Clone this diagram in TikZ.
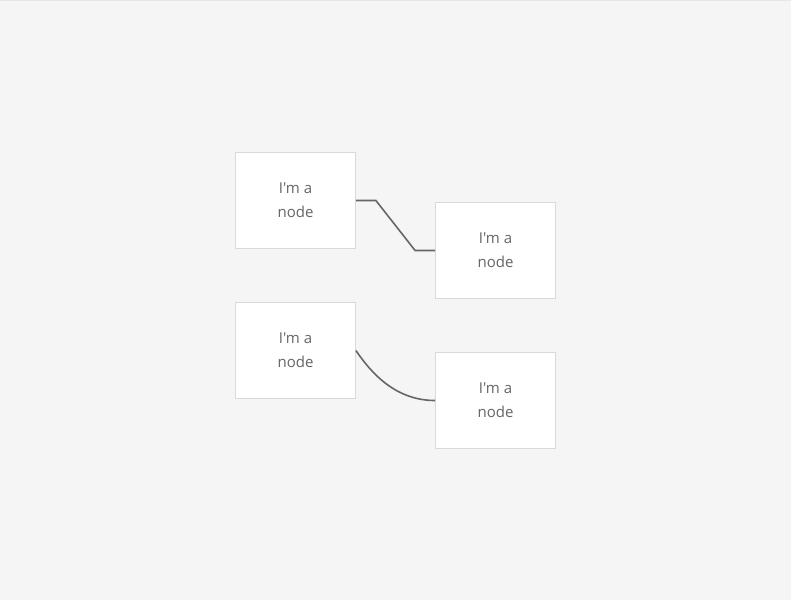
\documentclass[tikz,border=0pt]{standalone}
\usepackage{fontspec}
\setmainfont{Open Sans}[Ligatures=TeXOff]
\usetikzlibrary{calc}
\definecolor{bg}{HTML}{F5F5F5}
\definecolor{topline}{HTML}{E6E6E6}
\definecolor{nodeborder}{HTML}{D9D9D9}
\definecolor{textgray}{HTML}{666666}
\definecolor{linkgray}{HTML}{666666}
\tikzset{
  box/.style={draw=nodeborder, fill=white, line width=0.8pt, minimum width=120pt, minimum height=96pt, inner sep=0pt,
    text=textgray, align=center, font=\fontsize{15}{24}\selectfont},
  link/.style={draw=linkgray, line width=1.6pt}
}
\begin{document}
\begin{tikzpicture}[x=1pt,y=-1pt]
\fill[bg] (0,0) rectangle (791,600);
\useasboundingbox (0,0) rectangle (791,600);
\draw[topline, line width=1pt] (0,0.5) -- (791,0.5);
\node[box] (a) at (295.5,200.5) {I'm a\\node};
\node[box] (b) at (495.5,250.5) {I'm a\\node};
\node[box] (c) at (295.5,350.5) {I'm a\\node};
\node[box] (d) at (495.5,400.5) {I'm a\\node};
\draw[link] (a.east) -- ++(20,0) -- ($(b.west)+(-20,0)$) -- (b.west);
\draw[link] (c.east) .. controls ($(c.east)+(15,22)$) and ($(d.west)+(-40,0)$) .. (d.west);
\end{tikzpicture}
\end{document}
